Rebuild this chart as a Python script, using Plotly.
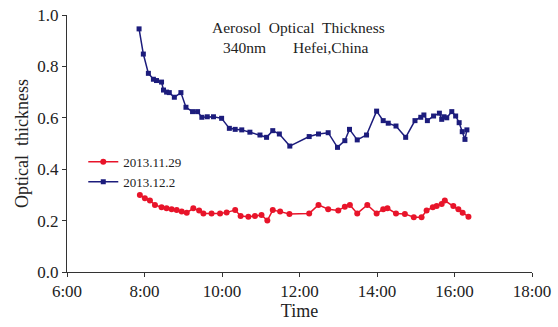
import plotly.graph_objects as go

# Time in decimal hours
red_hours = [7.88, 8.01, 8.14, 8.27, 8.44, 8.57, 8.70, 8.83, 8.96, 9.09, 9.26, 9.41, 9.52,
             9.73, 9.95, 10.12, 10.34, 10.48, 10.68, 10.85, 11.02, 11.17, 11.31, 11.50,
             11.74, 12.25, 12.49, 12.74, 13.00, 13.17, 13.30, 13.49, 13.75, 13.99, 14.16,
             14.27, 14.49, 14.72, 14.95, 15.15, 15.28, 15.44, 15.54, 15.67, 15.75, 15.97,
             16.10, 16.21, 16.36]
red_values = [0.300, 0.287, 0.278, 0.261, 0.252, 0.248, 0.244, 0.241, 0.235, 0.231, 0.248,
              0.239, 0.228, 0.228, 0.228, 0.232, 0.241, 0.218, 0.215, 0.218, 0.222, 0.200,
              0.241, 0.235, 0.226, 0.228, 0.261, 0.244, 0.239, 0.254, 0.261, 0.228, 0.261,
              0.228, 0.244, 0.248, 0.228, 0.226, 0.213, 0.213, 0.239, 0.252, 0.257, 0.265,
              0.278, 0.257, 0.244, 0.231, 0.215]

blue_hours = [7.86, 7.97, 8.10, 8.23, 8.31, 8.44, 8.49, 8.57, 8.64, 8.77, 8.94, 9.07, 9.24,
              9.37, 9.48, 9.62, 9.78, 9.99, 10.19, 10.34, 10.51, 10.72, 10.98, 11.15, 11.31,
              11.48, 11.75, 12.25, 12.49, 12.74, 12.98, 13.17, 13.29, 13.49, 13.73, 13.99,
              14.16, 14.29, 14.49, 14.74, 14.98, 15.13, 15.21, 15.30, 15.46, 15.61, 15.67,
              15.73, 15.80, 15.93, 16.03, 16.12, 16.20, 16.27, 16.32]
blue_values = [0.946, 0.848, 0.773, 0.750, 0.745, 0.739, 0.708, 0.700, 0.698, 0.680, 0.698,
               0.641, 0.624, 0.624, 0.602, 0.604, 0.604, 0.598, 0.559, 0.555, 0.553, 0.544,
               0.533, 0.524, 0.550, 0.537, 0.490, 0.527, 0.537, 0.542, 0.485, 0.511, 0.555,
               0.514, 0.533, 0.626, 0.589, 0.579, 0.568, 0.524, 0.589, 0.602, 0.611, 0.589,
               0.607, 0.618, 0.594, 0.604, 0.600, 0.624, 0.607, 0.581, 0.546, 0.516, 0.553]

tick_vals = [6, 8, 10, 12, 14, 16, 18]
tick_text = ["6:00", "8:00", "10:00", "12:00", "14:00", "16:00", "18:00"]
y_ticks = [0.0, 0.2, 0.4, 0.6, 0.8, 1.0]

FONT = "Liberation Serif"
RED = "#e8142a"
BLUE = "#1c1c7c"

fig = go.Figure()
fig.add_trace(go.Scatter(x=red_hours, y=red_values, mode="lines+markers", name="2013.11.29",
                         line=dict(color=RED, width=1.5),
                         marker=dict(color=RED, size=6, symbol="circle")))
fig.add_trace(go.Scatter(x=blue_hours, y=blue_values, mode="lines+markers", name="2013.12.2",
                         line=dict(color=BLUE, width=1.5),
                         marker=dict(color=BLUE, size=5, symbol="square")))

axis_common = dict(showgrid=False, zeroline=False, showline=True, linecolor="#333",
                   linewidth=1, ticks="outside", ticklen=4, tickcolor="#333",
                   automargin=False,
                   tickfont=dict(family=FONT, size=17, color="#222"))

fig.update_layout(
    template="none",
    width=558, height=327,
    margin=dict(l=67, r=26, t=15, b=55),
    paper_bgcolor="white", plot_bgcolor="white",
    font=dict(family=FONT, color="#222"),
    xaxis=dict(range=[6, 18], tickvals=tick_vals, ticktext=tick_text,
               title=dict(text="Time", font=dict(family=FONT, size=18), standoff=2),
               **axis_common),
    yaxis=dict(range=[0, 1.0], tickvals=y_ticks, tickformat=".1f",
               title=dict(text="Optical  thickness", font=dict(family=FONT, size=18), standoff=4),
               **axis_common),
    legend=dict(x=0.035, y=0.487, xanchor="left", yanchor="top",
                bgcolor="rgba(0,0,0,0)", borderwidth=0, font=dict(family=FONT, size=13),
                itemwidth=30, tracegroupgap=0),
    showlegend=True,
    annotations=[
        dict(text="Aerosol&nbsp; Optical&nbsp; Thickness", x=0.498, y=(272 - 17) / 257,
             xref="paper", yref="paper", showarrow=False,
             font=dict(family=FONT, size=15.5, color="#222")),
        dict(text="340nm", x=(244.5 - 67) / 465, y=(272 - 37) / 257,
             xref="paper", yref="paper", showarrow=False,
             font=dict(family=FONT, size=15.5, color="#222")),
        dict(text="Hefei,China", x=(330.5 - 67) / 465, y=(272 - 37) / 257,
             xref="paper", yref="paper", showarrow=False,
             font=dict(family=FONT, size=15.5, color="#222")),
    ],
)

fig.write_html("out.html")
